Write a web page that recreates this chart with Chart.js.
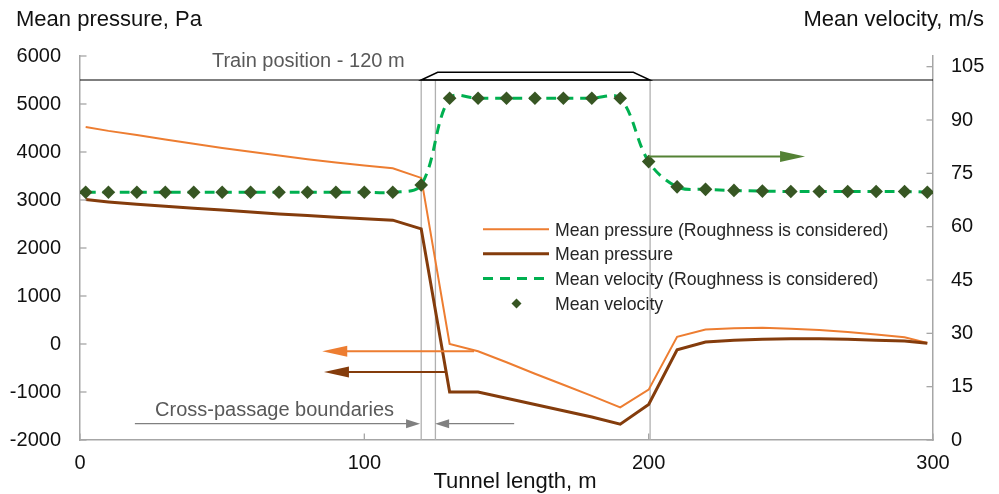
<!DOCTYPE html>
<html><head><meta charset="utf-8">
<script src="https://cdn.jsdelivr.net/npm/chart.js@4.4.1/dist/chart.umd.min.js"></script>
<style>html,body{margin:0;padding:0;background:#fff;}#wrap{width:999px;height:494px;position:relative;}</style>
</head><body><div id="wrap"><canvas id="c" width="999" height="494"></canvas></div>
<script>
// ---------- data ----------
const tunnelX = [2,10,20,30,40,50,60,70,80,90,100,110,120,130,140,150,160,170,180,190,200,210,220,230,240,250,260,270,280,290,298];
const pressureRough = [4520,4440,4355,4260,4170,4085,4005,3925,3850,3780,3720,3660,3460,0,-150,-380,-620,-850,-1080,-1320,-950,150,300,330,340,320,290,250,200,140,20];
const pressurePlain = [3010,2960,2910,2870,2830,2790,2750,2710,2675,2640,2610,2580,2400,-1000,-1000,-1130,-1260,-1390,-1520,-1670,-1260,-120,40,80,100,110,110,100,80,60,15];
const velocityRough = [69.7,69.7,69.7,69.7,69.7,69.7,69.7,69.7,69.7,69.7,69.7,69.7,71.7,96.1,96.1,96.1,96.1,96.1,96.1,96.1,78.3,71.2,70.5,70.2,70.0,69.9,69.9,69.9,69.9,69.9,69.7];
const velocityPlain = [69.7,69.7,69.7,69.7,69.7,69.7,69.7,69.7,69.7,69.7,69.7,69.7,71.7,96.1,96.1,96.1,96.1,96.1,96.1,96.1,78.3,71.2,70.5,70.2,70.0,69.9,69.9,69.9,69.9,69.9,69.7];
const seriesLabels = ['Mean pressure (Roughness is considered)','Mean pressure','Mean velocity (Roughness is considered)','Mean velocity'];
const xTicks = [0,100,200,300];
const leftTicks = [-2000,-1000,0,1000,2000,3000,4000,5000,6000];
const rightTicks = [0,15,30,45,60,75,90,105];
const boundaryX = [120,125,200.5];
const trainLineP = 5500;

const FONT = '"Liberation Sans", Arial, sans-serif';
const AXIS = '#a6a6a6';
const toXY = (ys) => tunnelX.map((x,i)=>({x, y: ys[i]}));
const plain = v => String(v);

function arrow(ctx, x0, y0, x1, y1, color, lw, headLen, headHalf) {
  const a = Math.atan2(y1-y0, x1-x0), c = Math.cos(a), s = Math.sin(a);
  const bx = x1 - headLen*c, by = y1 - headLen*s;
  ctx.strokeStyle = color; ctx.fillStyle = color; ctx.lineWidth = lw;
  ctx.beginPath(); ctx.moveTo(x0,y0); ctx.lineTo(bx+c, by+s); ctx.stroke();
  ctx.beginPath(); ctx.moveTo(x1,y1);
  ctx.lineTo(bx - headHalf*s, by + headHalf*c);
  ctx.lineTo(bx + headHalf*s, by - headHalf*c);
  ctx.closePath(); ctx.fill();
}

const annot = {
  id: 'annot',
  beforeDatasetsDraw(chart) {
    const {ctx, chartArea, scales:{x, y}} = chart;
    const px = v => x.getPixelForValue(v), py = v => y.getPixelForValue(v);
    ctx.save();
    ctx.strokeStyle = '#b0b0b0'; ctx.lineWidth = 1.3;
    for (const v of boundaryX) {
      ctx.beginPath(); ctx.moveTo(px(v), py(trainLineP)); ctx.lineTo(px(v), chartArea.bottom); ctx.stroke();
    }
    ctx.strokeStyle = '#000'; ctx.lineWidth = 1.1;
    ctx.beginPath(); ctx.moveTo(chartArea.left, py(trainLineP)); ctx.lineTo(chartArea.right, py(trainLineP)); ctx.stroke();
    ctx.lineWidth = 1.4;
    ctx.beginPath();
    ctx.moveTo(px(120), py(trainLineP)); ctx.lineTo(px(125.8), py(5660));
    ctx.lineTo(px(194.6), py(5660)); ctx.lineTo(px(200.5), py(trainLineP)); ctx.closePath(); ctx.stroke();
    ctx.restore();
  },
  afterDatasetsDraw(chart) {
    const {ctx, scales:{x, y, y1}} = chart;
    const px = v => x.getPixelForValue(v), py = v => y.getPixelForValue(v);
    ctx.save();
    arrow(ctx, px(138.6), py(-152), px(85.2), py(-152), '#ED7D31', 2, 25, 5.5);
    arrow(ctx, px(128.4), py(-583), px(85.8), py(-583), '#843C0C', 2, 25, 5.5);
    arrow(ctx, px(200), y1.getPixelForValue(79.7), px(255), y1.getPixelForValue(79.7), '#548235', 2, 25, 5.5);
    arrow(ctx, px(19.3), py(-1660), px(119.6), py(-1660), '#808080', 1.3, 14, 4.5);
    arrow(ctx, px(152.7), py(-1660), px(124.9), py(-1660), '#808080', 1.3, 14, 4.5);
    ctx.fillStyle = '#595959'; ctx.font = '20px ' + FONT; ctx.textBaseline = 'alphabetic'; ctx.textAlign = 'left';
    ctx.fillText('Train position - 120 m', px(46.4), py(5781));
    ctx.fillText('Cross-passage boundaries', px(26.4), py(-1500));
    // legend
    const ds = chart.data.datasets;
    const rows = [229.3, 253.8, 278.5, 303.5];
    ctx.font = '17.7px ' + FONT; ctx.fillStyle = '#262626';
    ds.forEach((d, i) => {
      const ry = rows[i];
      if (i < 3) {
        ctx.strokeStyle = d.borderColor; ctx.lineWidth = d.borderWidth;
        ctx.setLineDash(d.borderDash || []);
        ctx.beginPath(); ctx.moveTo(483, ry); ctx.lineTo(549, ry); ctx.stroke();
        ctx.setLineDash([]);
      } else {
        const r = 5; ctx.fillStyle = d.pointBackgroundColor;
        ctx.beginPath(); ctx.moveTo(516.5-r, ry); ctx.lineTo(516.5, ry-r); ctx.lineTo(516.5+r, ry); ctx.lineTo(516.5, ry+r); ctx.closePath(); ctx.fill();
        ctx.fillStyle = '#262626';
      }
      ctx.fillText(d.label, 555, ry + 6.3);
    });
    ctx.restore();
  },
  afterDraw(chart) {
    const {ctx, chartArea, scales:{x, y, y1}} = chart;
    ctx.save();
    ctx.strokeStyle = AXIS; ctx.lineWidth = 1.3;
    const tl = 6.5;
    for (const v of xTicks) { const p = x.getPixelForValue(v); ctx.beginPath(); ctx.moveTo(p, chartArea.bottom); ctx.lineTo(p, chartArea.bottom - tl); ctx.stroke(); }
    for (const v of leftTicks) { const p = y.getPixelForValue(v); ctx.beginPath(); ctx.moveTo(chartArea.left, p); ctx.lineTo(chartArea.left + tl, p); ctx.stroke(); }
    for (const v of rightTicks) { const p = y1.getPixelForValue(v); ctx.beginPath(); ctx.moveTo(chartArea.right, p); ctx.lineTo(chartArea.right - tl, p); ctx.stroke(); }
    ctx.fillStyle = '#111'; ctx.font = '22px ' + FONT; ctx.textBaseline = 'alphabetic';
    ctx.textAlign = 'left'; ctx.fillText('Mean pressure, Pa', 16, 26);
    ctx.textAlign = 'right'; ctx.fillText('Mean velocity, m/s', 984, 26);
    ctx.textAlign = 'center'; ctx.fillText('Tunnel length, m', 515, 488.3);
    ctx.restore();
  }
};

const tickFont = { family: FONT, size: 20 };
new Chart(document.getElementById('c'), {
  type: 'scatter',
  data: {
    datasets: [
      { label: seriesLabels[0], data: toXY(pressureRough), yAxisID: 'y', showLine: true, borderColor: '#ED7D31', borderWidth: 2, pointRadius: 0, tension: 0, order: 3 },
      { label: seriesLabels[1], data: toXY(pressurePlain), yAxisID: 'y', showLine: true, borderColor: '#843C0C', borderWidth: 3, pointRadius: 0, tension: 0, order: 2 },
      { label: seriesLabels[2], data: toXY(velocityRough), yAxisID: 'y1', showLine: true, borderColor: '#00B050', borderWidth: 3, borderDash: [10,7], pointRadius: 0, tension: 0.35, order: 1 },
      { label: seriesLabels[3], data: toXY(velocityPlain), yAxisID: 'y1', showLine: false, pointStyle: 'rectRot', pointRadius: 6.8, pointBackgroundColor: '#375623', pointBorderColor: '#375623', pointBorderWidth: 0, order: 0 }
    ]
  },
  options: {
    responsive: false, animation: false, devicePixelRatio: 1,
    layout: { padding: { top: 56, left: 0, right: 0, bottom: 0 } },
    plugins: { legend: { display: false }, tooltip: { enabled: false } },
    scales: {
      x: { type: 'linear', min: 0, max: 300, position: 'bottom',
        afterBuildTicks: s => { s.ticks = xTicks.map(v => ({value: v})); },
        afterFit: s => { s.height = 54; },
        grid: { display: false, drawTicks: false },
        border: { display: true, color: AXIS, width: 1.5 },
        ticks: { font: tickFont, color: '#111', padding: 11.5, autoSkip: false, maxRotation: 0, callback: plain } },
      y: { type: 'linear', min: -2000, max: 6000, position: 'left',
        afterBuildTicks: s => { s.ticks = leftTicks.map(v => ({value: v})); },
        afterFit: s => { s.width = 80; },
        grid: { display: false, drawTicks: false },
        border: { display: true, color: AXIS, width: 1.5 },
        ticks: { font: tickFont, color: '#111', padding: 19, autoSkip: false, callback: plain } },
      y1: { type: 'linear', min: 0, max: 108, position: 'right',
        afterBuildTicks: s => { s.ticks = rightTicks.map(v => ({value: v})); },
        afterFit: s => { s.width = 66; },
        grid: { display: false, drawTicks: false },
        border: { display: true, color: AXIS, width: 1.5 },
        ticks: { font: tickFont, color: '#111', padding: 18, autoSkip: false, callback: plain } }
    }
  },
  plugins: [annot]
});
</script></body></html>
